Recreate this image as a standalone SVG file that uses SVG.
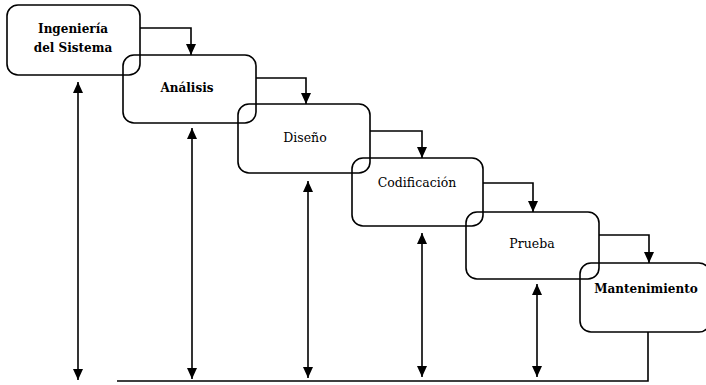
<svg xmlns="http://www.w3.org/2000/svg" width="706" height="385" viewBox="0 0 706 385">
<style>
.box{fill:none;stroke:#000;stroke-width:1.6}
.lbl{font-family:"DejaVu Serif","Liberation Serif",serif;font-size:12.5px;fill:#000;text-anchor:middle}
.b{font-weight:bold;font-size:12px}
.con{fill:none;stroke:#000;stroke-width:1.6}
</style>
<defs>
<marker id="ah" markerUnits="userSpaceOnUse" markerWidth="11" markerHeight="10" refX="11" refY="5" orient="auto-start-reverse" viewBox="0 0 11 10">
<path d="M0,0 L11,5 L0,10 z" fill="#000"/>
</marker>
</defs>
<rect width="706" height="385" fill="#fff"/>
<g id="n1"><rect class="box" x="7" y="5" width="133" height="70" rx="11"/>
<text class="lbl b" x="73" y="33">Ingeniería</text><text class="lbl b" x="73" y="52">del Sistema</text></g>
<g id="n2"><rect class="box" x="123" y="55" width="133" height="68" rx="11"/>
<text class="lbl b" x="187" y="92">Análisis</text></g>
<g id="n3"><rect class="box" x="238" y="104" width="132" height="69" rx="11"/>
<text class="lbl" x="305" y="142">Diseño</text></g>
<g id="n4"><rect class="box" x="352" y="158" width="131" height="68" rx="11"/>
<text class="lbl" x="417" y="187">Codificación</text></g>
<g id="n5"><rect class="box" x="466" y="212" width="133" height="67" rx="11"/>
<text class="lbl" x="532" y="248">Prueba</text></g>
<g id="n6"><rect class="box" x="580" y="263" width="130" height="69" rx="11"/>
<text class="lbl b" x="646" y="293">Mantenimiento</text></g>
<g id="connectors">
<path class="con" d="M140,28 H191 V55" marker-end="url(#ah)"/>
<path class="con" d="M256,78 H306 V104" marker-end="url(#ah)"/>
<path class="con" d="M370,131 H422 V158" marker-end="url(#ah)"/>
<path class="con" d="M483,183 H533 V212" marker-end="url(#ah)"/>
<path class="con" d="M599,235 H649 V263" marker-end="url(#ah)"/>
<line class="con" x1="78" y1="82" x2="78" y2="380" marker-start="url(#ah)" marker-end="url(#ah)"/>
<line class="con" x1="192" y1="128" x2="192" y2="379" marker-start="url(#ah)" marker-end="url(#ah)"/>
<line class="con" x1="308" y1="181" x2="308" y2="378" marker-start="url(#ah)" marker-end="url(#ah)"/>
<line class="con" x1="422" y1="233" x2="422" y2="377" marker-start="url(#ah)" marker-end="url(#ah)"/>
<line class="con" x1="537" y1="284" x2="537" y2="377" marker-start="url(#ah)" marker-end="url(#ah)"/>
<path class="con" d="M648,332 V381 H117"/>
</g>
</svg>
